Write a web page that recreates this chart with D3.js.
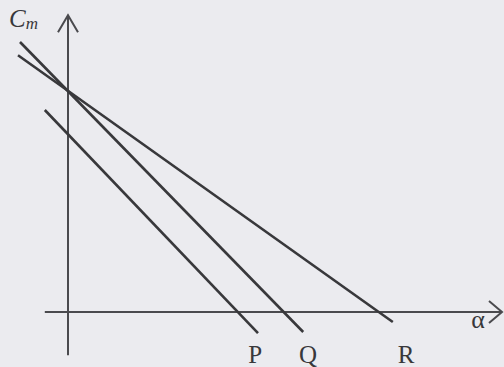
<!DOCTYPE html>
<html>
<head>
<meta charset="utf-8">
<script src="https://cdn.jsdelivr.net/npm/d3@7"></script>
<style>
  html, body { margin: 0; padding: 0; background: #ebebef; }
  svg { display: block; }
</style>
</head>
<body>
<svg id="chart" width="504" height="367"></svg>
<script>
// lines as [alpha, Cm] end points
let lineNames = ['P', 'Q', 'R'];
let lineStarts = [[-0.58, 5.05], [-1.2, 6.75], [-1.25, 6.42]];
let lineEnds = [[4.75, -0.53], [5.88, -0.5], [8.12, -0.25]];
// where each name sits along alpha, below the axis
let labelAlphas = [4.68, 6.0, 8.45];

let xAxisRange = [-0.58, 10.85];
let yAxisRange = [-1.08, 7.42];

let inkColor = '#38383b';
let axisColor = '#4a4a4e';

let x = d3.scaleLinear().domain([0, 10]).range([68, 468]);
let y = d3.scaleLinear().domain([0, 7]).range([312, 32]);

let svg = d3.select('#chart');

// axes
svg.append('line')
    .attr('x1', x(xAxisRange[0]))
    .attr('y1', y(0))
    .attr('x2', x(xAxisRange[1]))
    .attr('y2', y(0))
    .attr('stroke', axisColor)
    .attr('stroke-width', 2);

svg.append('line')
    .attr('x1', x(0))
    .attr('y1', y(yAxisRange[0]))
    .attr('x2', x(0))
    .attr('y2', y(yAxisRange[1]))
    .attr('stroke', axisColor)
    .attr('stroke-width', 2);

// open arrow heads
let xTip = [x(xAxisRange[1]), y(0)];
svg.append('path')
    .attr('d', `M${xTip[0] - 13},${xTip[1] - 11} L${xTip[0]},${xTip[1]} L${xTip[0] - 13},${xTip[1] + 11}`)
    .attr('fill', 'none')
    .attr('stroke', axisColor)
    .attr('stroke-width', 2);

let yTip = [x(0), y(yAxisRange[1])];
svg.append('path')
    .attr('d', `M${yTip[0] - 10},${yTip[1] + 17} L${yTip[0]},${yTip[1]} L${yTip[0] + 10},${yTip[1] + 17}`)
    .attr('fill', 'none')
    .attr('stroke', axisColor)
    .attr('stroke-width', 2);

// the three lines
svg.selectAll('line.curve')
    .data(lineNames)
    .enter()
    .append('line')
    .attr('class', 'curve')
    .attr('x1', (d, i) => x(lineStarts[i][0]))
    .attr('y1', (d, i) => y(lineStarts[i][1]))
    .attr('x2', (d, i) => x(lineEnds[i][0]))
    .attr('y2', (d, i) => y(lineEnds[i][1]))
    .attr('stroke', inkColor)
    .attr('stroke-width', 2.6);

// labels under the line ends
svg.selectAll('text.name')
    .data(lineNames)
    .enter()
    .append('text')
    .attr('class', 'name')
    .attr('x', (d, i) => x(labelAlphas[i]))
    .attr('y', 363)
    .attr('text-anchor', 'middle')
    .attr('font-family', 'Liberation Serif, serif')
    .attr('font-size', 25)
    .attr('fill', inkColor)
    .text((d) => d);

svg.append('text')
    .attr('x', 478)
    .attr('y', 328)
    .attr('text-anchor', 'middle')
    .attr('font-family', 'Liberation Serif, serif')
    .attr('font-size', 26)
    .attr('fill', inkColor)
    .text('α');

let cm = svg.append('text')
    .attr('x', 9)
    .attr('y', 27)
    .attr('font-family', 'Liberation Serif, serif')
    .attr('font-style', 'italic')
    .attr('font-size', 25)
    .attr('fill', inkColor);
cm.append('tspan').text('C');
cm.append('tspan')
    .attr('font-size', 17)
    .attr('dy', 2)
    .text('m');
</script>
</body>
</html>
